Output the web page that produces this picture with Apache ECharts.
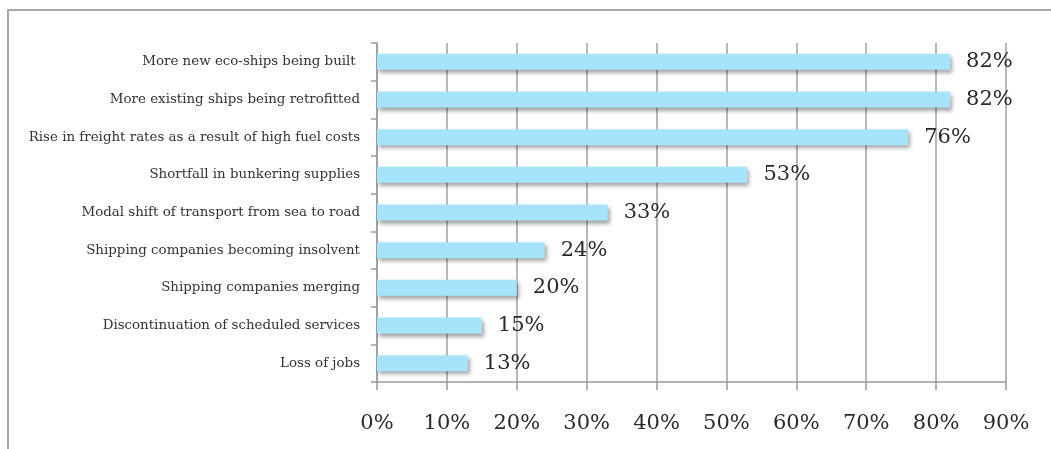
<!DOCTYPE html>
<html>
<head>
<meta charset="utf-8">
<script src="https://cdn.jsdelivr.net/npm/echarts@6/dist/echarts.min.js"></script>
<style>
  html, body { margin: 0; padding: 0; background: #fff; }
  #frame { position: absolute; left: 7px; top: 9px; width: 1044px; height: 440px;
           border-left: 2px solid #a8a8a8; border-top: 2px solid #a8a8a8; }
  #chart { position: absolute; left: 0; top: 0; width: 1051px; height: 449px; }
</style>
</head>
<body>
<div id="frame"></div>
<div id="chart"></div>
<script>
// Expected effects of high fuel costs on shipping (share of respondents)
const categories = [
  'More new eco-ships being built ',
  'More existing ships being retrofitted',
  'Rise in freight rates as a result of high fuel costs',
  'Shortfall in bunkering supplies',
  'Modal shift of transport from sea to road',
  'Shipping companies becoming insolvent',
  'Shipping companies merging',
  'Discontinuation of scheduled services',
  'Loss of jobs'
];
const shares = [82, 82, 76, 53, 33, 24, 20, 15, 13];
const tickValues = [0, 10, 20, 30, 40, 50, 60, 70, 80, 90];

const serif = '"DejaVu Serif", "Liberation Serif", serif';
const chart = echarts.init(document.getElementById('chart'), null, { renderer: 'canvas' });

chart.setOption({
  animation: false,
  backgroundColor: 'transparent',
  grid: { left: 377, right: 45, top: 43, bottom: 67, containLabel: false },
  xAxis: {
    type: 'value',
    min: tickValues[0],
    max: tickValues[tickValues.length - 1],
    interval: 10,
    axisLine: { show: true, lineStyle: { color: '#9a9a9a', width: 1.5 } },
    axisTick: { show: true, length: 8, lineStyle: { color: '#9a9a9a', width: 1.5 } },
    splitLine: { show: true, lineStyle: { color: '#a0a0a0', width: 1.5 } },
    axisLabel: {
      margin: 31,
      color: '#2a2a2a',
      fontFamily: serif,
      fontSize: 21,
      formatter: v => v + '%'
    }
  },
  yAxis: {
    type: 'category',
    inverse: true,
    data: categories,
    axisLine: { show: true, lineStyle: { color: '#9a9a9a', width: 1.5 } },
    axisTick: { show: true, length: 6, lineStyle: { color: '#9a9a9a', width: 1.5 } },
    axisLabel: {
      margin: 17,
      color: '#333',
      fontFamily: serif,
      fontSize: 13.4
    }
  },
  series: [{
    type: 'bar',
    data: shares,
    barWidth: 16,
    itemStyle: {
      color: '#a6e4fc',
      shadowColor: 'rgba(0,0,0,0.35)',
      shadowBlur: 4,
      shadowOffsetX: 2,
      shadowOffsetY: 3
    },
    label: {
      show: true,
      position: 'right',
      distance: 16,
      color: '#2a2a2a',
      fontFamily: serif,
      fontSize: 21,
      formatter: p => p.value + '%'
    }
  }]
});
</script>
</body>
</html>
